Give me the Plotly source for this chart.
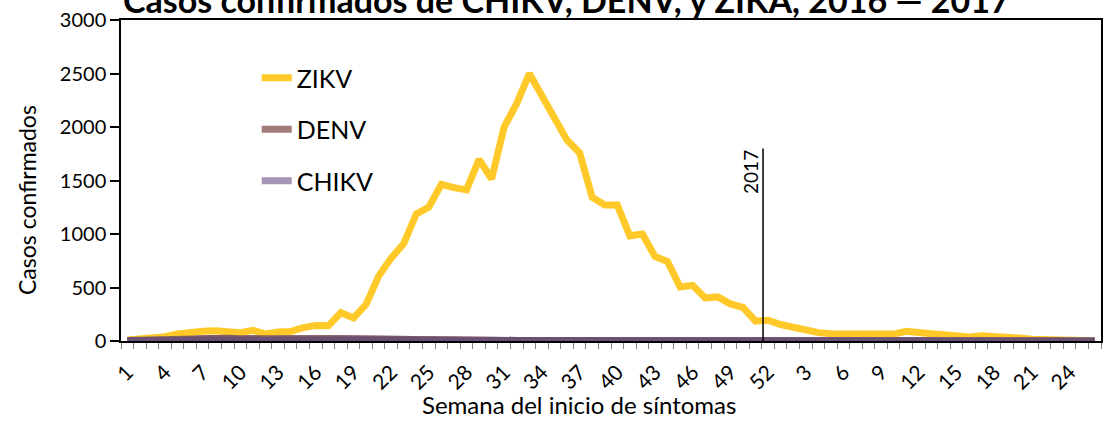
import plotly.graph_objects as go

# ---- data ----
weeks_2016 = list(range(1, 53))
weeks_2017 = list(range(1, 27))
week_labels = [str(w) for w in weeks_2016 + weeks_2017]

zikv = [10, 15, 20, 40, 65, 85, 92, 95, 80, 78, 100, 65, 85, 88, 125, 145, 142, 265,
        216, 340, 604, 775, 909, 1188, 1251, 1465, 1433, 1412, 1698, 1514, 2002, 2220,
        2500, 2290, 2090, 1877, 1760, 1344, 1272, 1272, 983, 999, 790, 744, 505, 520,
        403, 412, 347, 315, 185, 194,
        154, 128, 105, 78, 68, 68, 70, 65, 60, 65, 90, 85, 68, 58, 52, 38, 50, 48,
        40, 28, 16, 10, 10, 8, 5, 2]
denv = [5, 8, 12, 15, 20, 25, 28, 30, 25, 20, 18, 15, 12, 12, 15, 18, 20, 22, 20, 15,
        12, 10, 10, 8, 8, 8, 7, 7, 6, 6, 6, 5, 5, 5, 5, 5, 5, 5, 4, 4, 4, 4, 4, 4, 3, 3,
        3, 3, 3, 3, 3, 3,
        3, 3, 3, 2, 2, 2, 2, 2, 2, 2, 2, 2, 2, 2, 2, 2, 2, 1, 1, 1, 1, 1, 1, 1, 1, 1]
chikv = [2, 3, 4, 5, 6, 8, 8, 8, 7, 6, 5, 5, 4, 4, 5, 6, 8, 10, 9, 7, 5, 4, 4, 4, 3, 3,
         3, 3, 3, 3, 3, 3, 3, 3, 3, 2, 2, 2, 2, 2, 2, 2, 2, 2, 2, 2, 2, 2, 2, 2, 2, 2,
         2, 2, 2, 2, 2, 1, 1, 1, 1, 1, 1, 1, 1, 1, 1, 1, 1, 1, 1, 1, 1, 1, 1, 1, 1, 1]

series_names = ["ZIKV", "DENV", "CHIKV"]
legend_colors = ["#FFC929", "#A27B78", "#A495B4"]
plot_colors = ["#FFC929", "#7A5862", "#6A5078"]
y_ticks = [0, 500, 1000, 1500, 2000, 2500, 3000]
year_break_label = "2017"
title_text = "Casos confirmados de CHIKV, DENV, y ZIKA, 2016 \u2014 2017"

x_idx = list(range(len(week_labels)))
FONT = "Lato"
series_vals = [zikv, denv, chikv]

fig = go.Figure()
# legend entries (light colours, as in the reference legend)
for k, (name, vals, col) in enumerate(zip(series_names, series_vals, legend_colors)):
    if k == 0:
        continue
    fig.add_trace(go.Scatter(x=x_idx, y=vals, mode="lines", name=name, legendrank=k + 1,
                             legendgroup=name, line=dict(color=col, width=7)))
# plotted series
for k, (name, vals, col) in enumerate(zip(series_names, series_vals, plot_colors)):
    fig.add_trace(go.Scatter(x=x_idx, y=vals, mode="lines", name=name, legendrank=k + 1,
                             legendgroup=name, showlegend=(k == 0),
                             opacity=1.0 if k == 0 else 0.92,
                             line=dict(color=col, width=7)))

# vertical year-break line at the last week of 2016
brk = weeks_2016.index(52) - 0.4
fig.add_shape(type="line", xref="x", yref="y", x0=brk, x1=brk, y0=0, y1=1800,
              line=dict(color="black", width=1.5))
fig.add_annotation(x=brk, y=1800, xref="x", yref="y", text=year_break_label,
                   textangle=-90, showarrow=False, xanchor="right", yanchor="top",
                   xshift=1, font=dict(family=FONT, size=19, color="black"))

# title (partly cut at the top like the reference)
fig.add_annotation(x=(567 - 121) / 982, xref="paper", y=1.0, yref="paper", yshift=-2,
                   text="<b>" + title_text + "</b>", showarrow=False, yanchor="bottom",
                   font=dict(family=FONT, size=34, color="black"))

# axis titles
fig.add_annotation(x=(580 - 121) / 982, xref="paper", y=0, yref="paper",
                   yshift=-80, text="Semana del inicio de síntomas", showarrow=False,
                   font=dict(family=FONT, size=24, color="black"))
fig.add_annotation(x=0, xref="paper", xshift=-94, xanchor="center",
                   y=(341 - 200) / 321, yref="paper", yanchor="middle",
                   text="Casos confirmados", textangle=-90, showarrow=False,
                   font=dict(family=FONT, size=23, color="black"))

fig.update_layout(
    width=1109, height=423,
    margin=dict(l=121, r=6, t=20, b=82),
    paper_bgcolor="white", plot_bgcolor="white",
    font=dict(family=FONT, size=20, color="black"),
    showlegend=True,
    legend=dict(x=(257 - 121) / 982, y=(341 - 55) / 321, xanchor="left", yanchor="top",
                font=dict(family=FONT, size=25, color="black"),
                bgcolor="rgba(0,0,0,0)", tracegroupgap=16, traceorder="grouped"),
    xaxis=dict(
        range=[-0.5, len(week_labels) - 0.5],
        tickmode="array", tickvals=x_idx[::3], ticktext=week_labels[::3],
        tickangle=-45, ticks="", showgrid=False, zeroline=False,
        showline=True, linecolor="black", linewidth=1.5, mirror=True,
        layer="below traces", ticklabelstandoff=9,
        minor=dict(tickmode="linear", tick0=-0.5, dtick=1, ticks="outside",
                   ticklen=6, tickcolor="#808080", tickwidth=1.2),
        tickfont=dict(family=FONT, size=21),
    ),
    yaxis=dict(
        range=[0, 3000], tickmode="array", tickvals=y_ticks,
        ticks="outside", ticklen=9, tickcolor="black", tickwidth=1.5,
        showgrid=False, zeroline=False,
        showline=True, linecolor="black", linewidth=1.5, mirror=True,
        tickfont=dict(family=FONT, size=20),
    ),
)

fig.write_html("out.html", config={"displayModeBar": False},
               post_script="document.body.style.margin='0';")
